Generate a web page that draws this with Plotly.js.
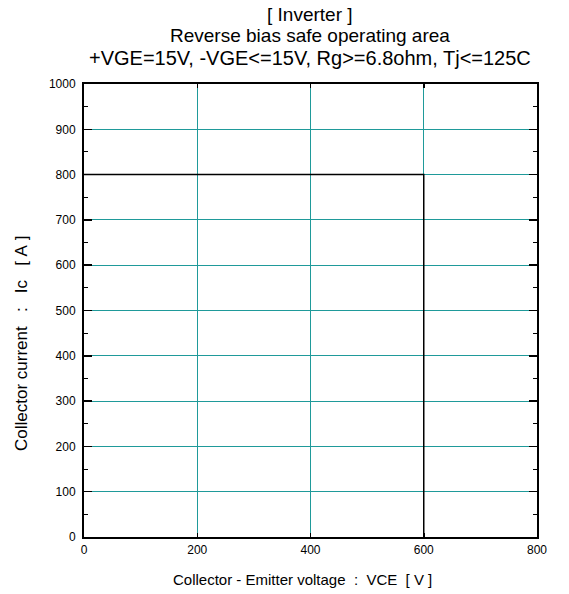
<!DOCTYPE html>
<html>
<head>
<meta charset="utf-8">
<script src="https://cdn.plot.ly/plotly-3.0.1.min.js"></script>
<style>html,body{margin:0;padding:0;background:#fff;}#chart{width:569px;height:594px;}</style>
</head>
<body>
<div id="chart"></div>
<script>
var vce = [0, 600, 600];
var ic = [800, 800, 0];
var titleLines = ["[ Inverter ]", "Reverse bias safe operating area", "+VGE=15V, -VGE<=15V, Rg>=6.8ohm, Tj<=125C"];
var xTitle = "Collector - Emitter voltage\u00a0\u00a0:\u00a0\u00a0VCE\u00a0\u00a0[ V ]";
var yTitle = "Collector current\u00a0\u00a0\u00a0:\u00a0\u00a0\u00a0Ic\u00a0\u00a0\u00a0[\u00a0A\u00a0]";

var font = "Liberation Sans, Arial, sans-serif";
var grid = "#1f9a9a";
var W = 569, H = 594, L = 84, R = 32, T = 84, B = 57;
var pw = W - L - R, ph = H - T - B;

function px(x) { return (x - L) / pw; }
function py(y) { return (H - B - y) / ph; }

var titleY = [14, 36, 58];
var titleSize = [19, 19, 20];
var annotations = titleLines.map(function (t, i) {
  return {text: t, xref: "paper", yref: "paper", x: px(310), y: py(titleY[i]),
          xanchor: "center", yanchor: "middle", showarrow: false,
          font: {size: titleSize[i], family: font, color: "#000"}};
});
annotations.push({text: xTitle, xref: "paper", yref: "paper", x: px(302), y: py(579),
  xanchor: "center", yanchor: "middle", showarrow: false, font: {size: 15, family: font, color: "#000"}});
annotations.push({text: yTitle, xref: "paper", yref: "paper", x: px(21), y: py(344),
  xanchor: "center", yanchor: "middle", showarrow: false, textangle: -90,
  font: {size: 17, family: font, color: "#000"}});

Plotly.newPlot("chart", [{
  x: vce, y: ic, type: "scatter", mode: "lines",
  line: {color: "#000", width: 1.5}, hoverinfo: "none", showlegend: false
}], {
  width: W, height: H,
  margin: {l: L, r: R, t: T, b: B},
  paper_bgcolor: "#fff", plot_bgcolor: "#fff",
  font: {family: font, color: "#000"},
  annotations: annotations,
  xaxis: {
    range: [0, 800], dtick: 200, tick0: 0, ticks: "inside", ticklen: 4, tickwidth: 1.5, tickcolor: "#000",
    showline: true, linecolor: "#000", linewidth: 2, mirror: "ticks",
    showgrid: true, gridcolor: grid, gridwidth: 1, zeroline: false,
    tickfont: {size: 12, family: font}, fixedrange: true, ticklabelstandoff: 1
  },
  yaxis: {
    range: [0, 1000], dtick: 100, tick0: 0, ticks: "inside", ticklen: 8, tickwidth: 1.5, tickcolor: "#000",
    minor: {dtick: 50, ticks: "inside", ticklen: 4, tickcolor: "#000", tickwidth: 1, showgrid: false},
    showline: true, linecolor: "#000", linewidth: 2, mirror: "ticks",
    showgrid: true, gridcolor: grid, gridwidth: 1, zeroline: false,
    tickfont: {size: 12, family: font}, fixedrange: true, ticklabelstandoff: 4
  }
}, {staticPlot: true});
</script>
</body>
</html>
